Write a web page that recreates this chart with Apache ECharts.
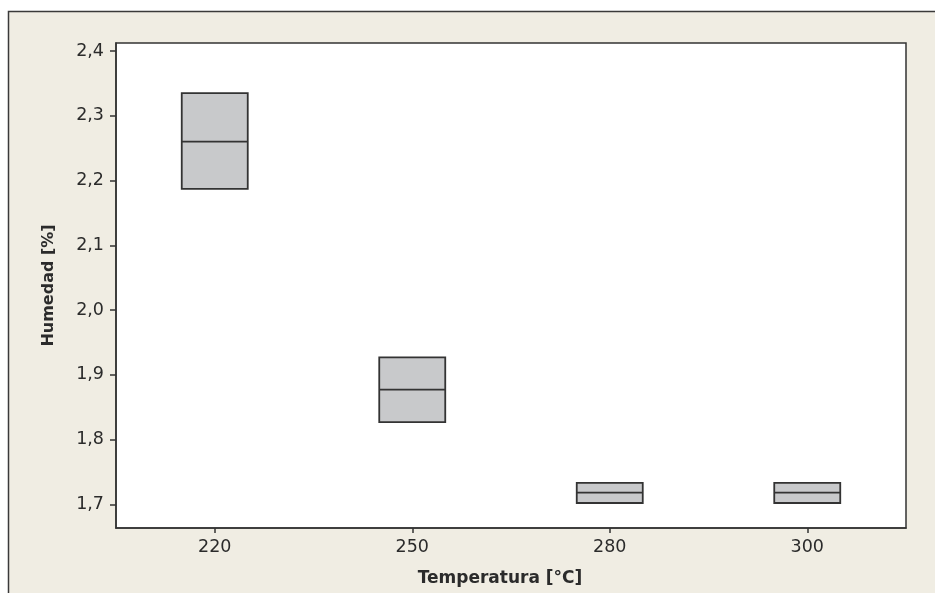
<!DOCTYPE html>
<html>
<head>
<meta charset="utf-8">
<script src="https://cdn.jsdelivr.net/npm/echarts@6/dist/echarts.min.js"></script>
<style>
  html, body { margin: 0; padding: 0; background: #ffffff; }
  #chart { width: 935px; height: 593px; }
</style>
</head>
<body>
<div id="chart"></div>
<script>
// Humidity by drying temperature
const categories = ['220', '250', '280', '300'];
const boxLow = [2.187, 1.827, 1.702, 1.702];
const boxMedian = [2.260, 1.877, 1.718, 1.718];
const boxHigh = [2.335, 1.927, 1.733, 1.733];
const yTicks = [1.7, 1.8, 1.9, 2.0, 2.1, 2.2, 2.3, 2.4];

// whiskers coincide with box edges: [min, Q1, median, Q3, max]
const boxData = categories.map((c, i) => [boxLow[i], boxLow[i], boxMedian[i], boxHigh[i], boxHigh[i]]);

const chart = echarts.init(document.getElementById('chart'), null, { renderer: 'canvas' });

const textColor = '#2b2b2b';
const lineColor = '#333333';

chart.setOption({
  backgroundColor: '#ffffff',
  animation: false,
  graphic: [{
    type: 'rect',
    z: -10,
    silent: true,
    shape: { x: 8.5, y: 11.5, width: 960, height: 620 },
    style: { fill: '#F0EDE3', stroke: '#3a3a3a', lineWidth: 1.5 }
  }],
  grid: {
    left: 116, top: 43, right: 29, bottom: 65,
    show: true,
    backgroundColor: '#ffffff',
    borderColor: lineColor,
    borderWidth: 1.5
  },
  xAxis: {
    type: 'category',
    data: categories,
    boundaryGap: true,
    name: 'Temperatura [°C]',
    nameLocation: 'middle',
    nameGap: 42,
    nameTextStyle: {
      fontFamily: 'DejaVu Sans', fontWeight: 'bold', fontSize: 17,
      color: textColor, padding: [0, 22, 0, 0]
    },
    axisLine: { show: true, lineStyle: { color: lineColor, width: 1.5 } },
    axisTick: { show: true, alignWithLabel: true, length: 5, lineStyle: { color: lineColor, width: 1.5 } },
    axisLabel: { fontFamily: 'DejaVu Sans', fontSize: 17.5, color: textColor, margin: 10 },
    splitLine: { show: false }
  },
  yAxis: {
    type: 'value',
    min: 1.6634,
    max: 2.4124,
    name: 'Humedad [%]',
    nameLocation: 'middle',
    nameGap: 59,
    nameTextStyle: {
      fontFamily: 'DejaVu Sans', fontWeight: 'bold', fontSize: 16, color: textColor
    },
    axisLine: { show: true, lineStyle: { color: lineColor, width: 1.5 } },
    axisTick: {
      show: true, length: 6, customValues: yTicks,
      lineStyle: { color: lineColor, width: 1.5 }
    },
    axisLabel: {
      fontFamily: 'DejaVu Sans', fontSize: 17.5, color: textColor, margin: 12,
      customValues: yTicks,
      formatter: v => v.toFixed(1).replace('.', ',')
    },
    splitLine: { show: false }
  },
  series: [{
    type: 'boxplot',
    data: boxData,
    boxWidth: [66, 66],
    itemStyle: { color: '#C8C9CB', borderColor: '#333333', borderWidth: 1.8 },
    emphasis: { disabled: true }
  }]
});
</script>
</body>
</html>
